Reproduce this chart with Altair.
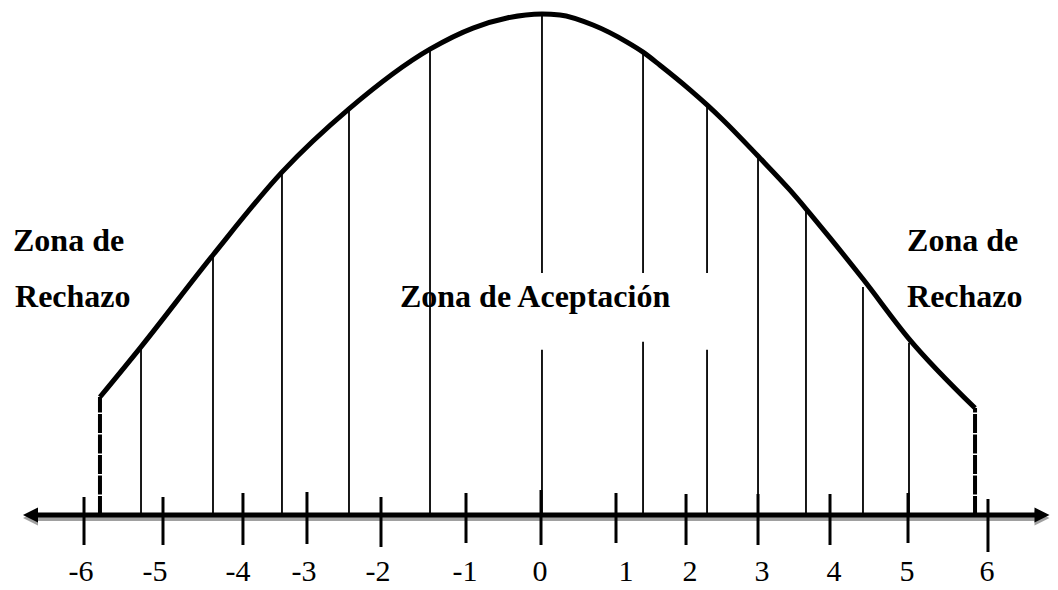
import altair as alt
import pandas as pd

# ---- values (x in z-units, y in relative height) ----
tick_labels = ["-6", "-5", "-4", "-3", "-2", "-1", "0", "1", "2", "3", "4", "5", "6"]
tick_pos = [-6.069, -5.020, -3.958, -3.108, -2.125, -0.996, 0.0, 0.996, 1.926, 2.882, 3.838, 4.874, 5.936]
tick_top = [0.0359, 0.0359, 0.0438, 0.0458, 0.0359, 0.0438, 0.0498, 0.0438, 0.0418, 0.0418, 0.0418, 0.0438, 0.0319]
tick_bottom = [-0.0598, -0.0598, -0.0598, -0.0578, -0.0637, -0.0558, -0.0598, -0.0558, -0.0598, -0.0598, -0.0598, -0.0558, -0.0737]
label_pos = [-6.109, -5.126, -4.024, -3.147, -2.165, -1.009, -0.013, 1.129, 1.979, 2.935, 3.891, 4.861, 5.923]
label_y = -0.1315

curve_x = [-5.857, -5.312, -4.356, -3.440, -2.550, -1.474, -0.903, -0.452, 0.013, 0.252,
           0.691, 1.142, 1.355, 1.580, 1.979, 2.205, 2.417, 2.882, 3.307, 3.519,
           3.838, 4.276, 4.887, 5.764]
curve_y = [0.235, 0.335, 0.518, 0.683, 0.809, 0.928, 0.970, 0.990, 0.998, 0.996,
           0.976, 0.942, 0.922, 0.896, 0.847, 0.817, 0.787, 0.715, 0.647, 0.610,
           0.552, 0.470, 0.351, 0.213]

vline_x = [-5.312, -4.356, -3.440, -2.550, -1.474, 0.013, 1.355, 2.205, 2.882, 3.519, 4.276, 4.887]
vline_top = [0.335, 0.518, 0.683, 0.809, 0.928, 0.998, 0.922, 0.817, 0.715, 0.610, 0.454, 0.343]
gap_x = [0.013, 1.355, 2.205]
gap_lo = [0.329, 0.345, 0.329]
gap_hi = [0.482, 0.482, 0.482]

dash_x = [-5.857, 5.764]
dash_top = [0.235, 0.213]

axis_start = [-6.786]
axis_end = [6.653]
arrow_x = [-6.78, 6.653]

zone_text = ["Zona de", "Rechazo", "Zona de", "Rechazo", "Zona de Aceptación"]
zone_x = [-7.012, -6.985, 4.861, 4.861, -1.873]
zone_y = [0.526, 0.414, 0.526, 0.414, 0.414]

# ---- tables ----
segs = []
for x, top in zip(vline_x, vline_top):
    if x in gap_x:
        i = gap_x.index(x)
        segs.append({"x": x, "y": 0.0, "y2": gap_lo[i]})
        segs.append({"x": x, "y": gap_hi[i], "y2": top})
    else:
        segs.append({"x": x, "y": 0.0, "y2": top})
seg_df = pd.DataFrame(segs)
curve_df = pd.DataFrame({"x": curve_x, "y": curve_y, "o": list(range(len(curve_x)))})
tick_df = pd.DataFrame({"x": tick_pos, "y": tick_top, "y2": tick_bottom})
label_df = pd.DataFrame({"x": label_pos, "y": [label_y] * len(label_pos), "t": tick_labels})
dash_df = pd.DataFrame({"x": dash_x, "y": [0.0, 0.0], "y2": dash_top})
axis_df = pd.DataFrame({"x": axis_start, "x2": axis_end, "y": [0.0]})
arrow_l = pd.DataFrame({"x": arrow_x[:1], "y": [0.0]})
arrow_r = pd.DataFrame({"x": arrow_x[1:], "y": [0.0]})
zone_df = pd.DataFrame({"x": zone_x, "y": zone_y, "t": zone_text})

W, H = 1042, 574
SERIF = "Liberation Serif, Times New Roman, Times, serif"
xs = alt.Scale(domain=[-7.0784, 6.7596], nice=False, zero=False)
ys = alt.Scale(domain=[-0.13347, 1.00996], nice=False, zero=False)
X = lambda f="x": alt.X(f"{f}:Q", scale=xs, axis=None)
Y = lambda f="y": alt.Y(f"{f}:Q", scale=ys, axis=None)

shadow = alt.Chart(axis_df).mark_rule(color="#a0a0a0", strokeWidth=4, yOffset=4).encode(
    x=X(), x2="x2:Q", y=Y())
axis_line = alt.Chart(axis_df).mark_rule(color="black", strokeWidth=5).encode(
    x=X(), x2="x2:Q", y=Y())
left_shape = "M-1,0L1,-1L1,1Z"
right_shape = "M1,0L-1,-1L-1,1Z"
arr_l_sh = alt.Chart(arrow_l).mark_point(shape=left_shape, filled=True, size=225, color="#a0a0a0",
                                         opacity=1, yOffset=3).encode(x=X(), y=Y())
arr_r_sh = alt.Chart(arrow_r).mark_point(shape=right_shape, filled=True, size=225, color="#a0a0a0",
                                         opacity=1, yOffset=3).encode(x=X(), y=Y())
arr_l = alt.Chart(arrow_l).mark_point(shape=left_shape, filled=True, size=225, color="black",
                                      opacity=1).encode(x=X(), y=Y())
arr_r = alt.Chart(arrow_r).mark_point(shape=right_shape, filled=True, size=225, color="black",
                                      opacity=1).encode(x=X(), y=Y())

ticks = alt.Chart(tick_df).mark_rule(color="black", strokeWidth=3).encode(x=X(), y=Y(), y2="y2:Q")
vlines = alt.Chart(seg_df).mark_rule(color="black", strokeWidth=1.8).encode(x=X(), y=Y(), y2="y2:Q")
dashes = alt.Chart(dash_df).mark_rule(color="black", strokeWidth=4, strokeDash=[19, 1.5]).encode(
    x=X(), y=Y(), y2="y2:Q")
curve = alt.Chart(curve_df).mark_line(color="black", strokeWidth=5, interpolate="monotone").encode(
    x=X(), y=Y(), order="o:Q")
labels = alt.Chart(label_df).mark_text(font=SERIF, fontSize=30, color="black",
                                       align="center", baseline="alphabetic").encode(
    x=X(), y=Y(), text="t:N")
zones = alt.Chart(zone_df).mark_text(font=SERIF, fontSize=32, fontWeight="bold",
                                     color="black", align="left", baseline="alphabetic").encode(
    x=X(), y=Y(), text="t:N")

chart = alt.layer(shadow, arr_l_sh, arr_r_sh, axis_line, arr_l, arr_r, vlines, ticks, dashes,
                  curve, labels, zones).properties(
    width=W, height=H, padding=0,
    autosize=alt.AutoSizeParams(type="none"),
    background="white",
).configure_view(stroke=None)

chart.save("out.html", embed_options={"renderer": "svg", "actions": False})
